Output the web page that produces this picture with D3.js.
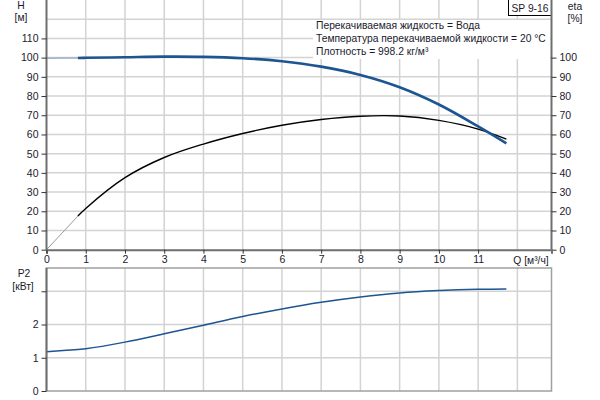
<!DOCTYPE html>
<html>
<head>
<meta charset="utf-8">
<script src="https://cdn.jsdelivr.net/npm/d3@7"></script>
<style>
  body { margin: 0; background: #fff; }
  text { font-family: "Liberation Sans", Arial, sans-serif; font-size: 10.3px; fill: #1a1a2e; }
</style>
</head>
<body>
<div id="chart"></div>
<script>
// data
var flow = [0, 0.8, 1, 2, 3, 4, 5, 6, 7, 8, 9, 10, 11, 11.72];
var head = [99.7, 99.8, 99.9, 100.2, 100.5, 100.4, 99.7, 98.1, 95.3, 91, 84.6, 75.6, 64.2, 55.4];
var eta = [0, 17.5, 21.5, 37.5, 48, 55, 60.5, 64.8, 67.8, 69.5, 69.6, 67.3, 62.8, 57.6];
var power = [1.18, 1.25, 1.27, 1.47, 1.72, 1.98, 2.24, 2.47, 2.67, 2.83, 2.95, 3.02, 3.06, 3.07];

var qTicks = [0, 1, 2, 3, 4, 5, 6, 7, 8, 9, 10, 11];
var hTicks = [0, 10, 20, 30, 40, 50, 60, 70, 80, 90, 100, 110];
var etaTicks = [0, 10, 20, 30, 40, 50, 60, 70, 80, 90, 100];
var pTicks = [0, 1, 2, 3];
var pLabels = ["0", "1", "2", ""];
var legendLines = [
  "Перекачиваемая жидкость = Вода",
  "Температура перекачиваемой жидкости = 20 °C",
  "Плотность = 998.2 кг/м³"
];
var pumpName = "SP 9-16";
var splitQ = 0.8; // start of the curve drawn thin

var width = 600, height = 400;

var svg = d3.select("#chart").append("svg")
    .attr("width", width)
    .attr("height", height);

// scales
var x = d3.scaleLinear().domain([0, 12.87]).range([46.5, 551.5]);
var yH = d3.scaleLinear().domain([0, 130]).range([249.7, 0]);
var yP = d3.scaleLinear().domain([0, 3.7]).range([391, 268]);

var gridColor = "#d3d3d3", axisColor = "#6e6e6e";

// ---------- top plot grid ----------
var upper = svg.append("g");
upper.selectAll(".hg")
    .data(d3.range(10, 130, 10))
  .enter().append("line")
    .attr("x1", x(0)).attr("x2", x.range()[1])
    .attr("y1", d => yH(d)).attr("y2", d => yH(d))
    .style("stroke", gridColor).style("stroke-width", 1.5);
upper.selectAll(".vg")
    .data(d3.range(1, 13))
  .enter().append("line")
    .attr("x1", d => x(d)).attr("x2", d => x(d))
    .attr("y1", 0).attr("y2", yH(0))
    .style("stroke", gridColor).style("stroke-width", 1.5);

// ---------- bottom plot grid ----------
var lower = svg.append("g");
lower.selectAll(".hg")
    .data([1, 2, 3])
  .enter().append("line")
    .attr("x1", x(0)).attr("x2", x.range()[1])
    .attr("y1", d => yP(d)).attr("y2", d => yP(d))
    .style("stroke", gridColor).style("stroke-width", 1.5);
lower.selectAll(".vg")
    .data(d3.range(1, 13))
  .enter().append("line")
    .attr("x1", d => x(d)).attr("x2", d => x(d))
    .attr("y1", yP.range()[1]).attr("y2", yP(0))
    .style("stroke", gridColor).style("stroke-width", 1.5);
lower.append("rect")
    .attr("x", x(0)).attr("y", yP.range()[1])
    .attr("width", x.range()[1] - x(0))
    .attr("height", yP(0) - yP.range()[1])
    .style("fill", "none").style("stroke", "#a0a0a0").style("stroke-width", 1.5);

// ---------- legend box ----------
svg.append("rect")
    .attr("x", 313).attr("y", 20).attr("width", 237).attr("height", 39)
    .style("fill", "#fff");
svg.selectAll(".leg")
    .data(legendLines)
  .enter().append("text")
    .attr("x", 316)
    .attr("y", (d, i) => 29 + i * 13)
    .text(d => d);

svg.append("rect")
    .attr("x", 508.5).attr("y", -1).attr("width", 43).attr("height", 16.5)
    .style("fill", "#fff").style("stroke", "#000").style("stroke-width", 1);
svg.append("text")
    .attr("x", 530).attr("y", 11.5)
    .attr("text-anchor", "middle")
    .text(pumpName);

// ---------- curves ----------
var pts = function(vals) { return flow.map((q, i) => [q, vals[i]]); };
var lineH = d3.line().x(d => x(d[0])).y(d => yH(d[1])).curve(d3.curveCatmullRom.alpha(0.5));
var lineP = d3.line().x(d => x(d[0])).y(d => yP(d[1])).curve(d3.curveCatmullRom.alpha(0.5));

function drawSplit(vals, gen, thinColor, thickColor, thickWidth) {
  var all = pts(vals);
  var k = flow.indexOf(splitQ);
  svg.append("path")
      .attr("d", gen(all.slice(0, k + 1)))
      .style("fill", "none").style("stroke", thinColor).style("stroke-width", 1);
  svg.append("path")
      .attr("d", gen(all.slice(k)))
      .style("fill", "none").style("stroke", thickColor).style("stroke-width", thickWidth);
}

drawSplit(eta, lineH, "#9a9a9a", "#000", 1.4);
drawSplit(head, lineH, "#7f97b8", "#1d5592", 2.6);

svg.append("path")
    .attr("d", lineP(pts(power)))
    .style("fill", "none").style("stroke", "#1d5592").style("stroke-width", 1.5);

// ---------- axes ----------
// left H axis
var axH = svg.append("g").attr("transform", "translate(" + x(0) + ",0)")
    .call(d3.axisLeft(yH).tickValues(hTicks).tickSize(5).tickPadding(3));
// right eta axis
var axE = svg.append("g").attr("transform", "translate(" + x.range()[1] + ",0)")
    .call(d3.axisRight(yH).tickValues(etaTicks).tickSize(5).tickPadding(3));
// bottom Q axis
var axQ = svg.append("g").attr("transform", "translate(0," + yH(0) + ")")
    .call(d3.axisBottom(x).tickValues(qTicks).tickSize(4).tickPadding(2)
      .tickFormat(d3.format("d")));
// left P2 axis
var axP = svg.append("g").attr("transform", "translate(" + x(0) + ",0)")
    .call(d3.axisLeft(yP).tickValues(pTicks).tickSize(5).tickPadding(3)
      .tickFormat((d, i) => pLabels[i]));

[axH, axE, axQ, axP].forEach(function(a) {
  a.select(".domain").style("stroke", axisColor).style("stroke-width", 2);
  a.selectAll(".tick line").style("stroke", "#333");
  a.selectAll(".tick text").style("font-size", "10.5px").style("fill", "#1a1a2e");
});
axH.select(".domain").attr("d", "M0," + yH(0) + "V0");
axE.select(".domain").attr("d", "M0," + yH(0) + "V0");
axP.select(".domain").attr("d", "M0," + yP(0) + "V" + yP.range()[1]);

// axis titles
svg.append("text").attr("x", 21).attr("y", 9).attr("text-anchor", "middle").text("H");
svg.append("text").attr("x", 21).attr("y", 21).attr("text-anchor", "middle").text("[м]");
svg.append("text").attr("x", 575).attr("y", 10).attr("text-anchor", "middle").text("eta");
svg.append("text").attr("x", 575).attr("y", 22).attr("text-anchor", "middle").text("[%]");
svg.append("text").attr("x", x(12) - 4).attr("y", yH(0) + 14).text("Q [м³/ч]");
svg.append("text").attr("x", 24).attr("y", 277).attr("text-anchor", "middle").text("P2");
svg.append("text").attr("x", 23).attr("y", 290).attr("text-anchor", "middle").text("[кВт]");
</script>
</body>
</html>
